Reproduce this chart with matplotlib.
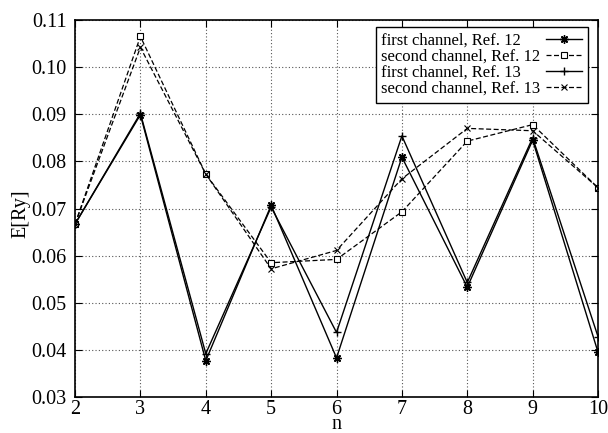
import numpy as np
import matplotlib
matplotlib.use('Agg')
import matplotlib.pyplot as plt

# Data
ar_n = [2, 3, 4, 5, 6, 7, 8, 9, 10]
ar_first_ref12 = [0.0667, 0.0899, 0.0377, 0.0707, 0.0383, 0.0809, 0.0533, 0.0845, 0.0395]
ar_second_ref12 = [0.0667, 0.1065, 0.0773, 0.0585, 0.0592, 0.0693, 0.0843, 0.0878, 0.0744]
ar_first_ref13 = [0.0667, 0.0902, 0.0392, 0.0703, 0.0437, 0.0854, 0.0543, 0.0850, 0.0428]
ar_second_ref13 = [0.0667, 0.1042, 0.0773, 0.0572, 0.0611, 0.0763, 0.0870, 0.0865, 0.0744]
ar_labels = ['first channel, Ref. 12', 'second channel, Ref. 12',
             'first channel, Ref. 13', 'second channel, Ref. 13']

plt.rcParams['font.family'] = ['Liberation Serif', 'DejaVu Serif']

fig = plt.figure(figsize=(6.08, 4.33), dpi=100)
ax = fig.add_axes([0.1234, 0.0831, 0.8602, 0.8707])

ax.plot(ar_n, ar_first_ref12, color='black', linestyle='-', lw=1.0,
        marker=(8, 2, 0), ms=6, mew=1.0, label=ar_labels[0])
ax.plot(ar_n, ar_second_ref12, color='black', linestyle=(0, (4, 2)), lw=0.9,
        marker='s', ms=5, mfc='white', mew=0.8, label=ar_labels[1])
ax.plot(ar_n, ar_first_ref13, color='black', linestyle='-', lw=1.0,
        marker='+', ms=6, mew=1.0, label=ar_labels[2])
ax.plot(ar_n, ar_second_ref13, color='black', linestyle=(0, (4, 2)), lw=0.9,
        marker='x', ms=5, mew=0.8, label=ar_labels[3])

ax.set_xlim(2, 10)
ax.set_ylim(0.03, 0.11)
ax.set_xticks(np.arange(2, 11))
ar_yticks = np.arange(0.03, 0.1101, 0.01)
ax.set_yticks(ar_yticks)
ax.set_yticklabels(['%.2f' % v for v in ar_yticks])
ax.tick_params(direction='in', top=True, right=True, labelsize=14.5, length=5)
ax.tick_params(axis='y', pad=6)
ax.tick_params(axis='x', pad=2)
ax.grid(True, linestyle=(0, (1, 2)), color='#555555', lw=0.8)
for sp in ax.spines.values():
    sp.set_linewidth(1.2)

ax.set_xlabel('n', fontsize=14.5, labelpad=-3)
ax.set_ylabel('E[Ry]', fontsize=14.5)
ax.yaxis.set_label_coords(-0.085, 0.485)

leg = ax.legend(loc='upper right', markerfirst=False, fontsize=12, fancybox=False,
                framealpha=1, edgecolor='black', handlelength=2.2,
                borderpad=0.35, labelspacing=0.0, handletextpad=0.3,
                borderaxespad=0, bbox_to_anchor=(0.981, 0.981))
leg.get_frame().set_linewidth(1.0)

# left-align the legend texts (gnuplot style, samples on the right)
fig.canvas.draw()
renderer = fig.canvas.get_renderer()
ar_x0 = [t.get_window_extent(renderer).x0 for t in leg.get_texts()]
for t, x0 in zip(leg.get_texts(), ar_x0):
    t.set_x(min(ar_x0) - x0)

fig.savefig('out.png', dpi=100)
